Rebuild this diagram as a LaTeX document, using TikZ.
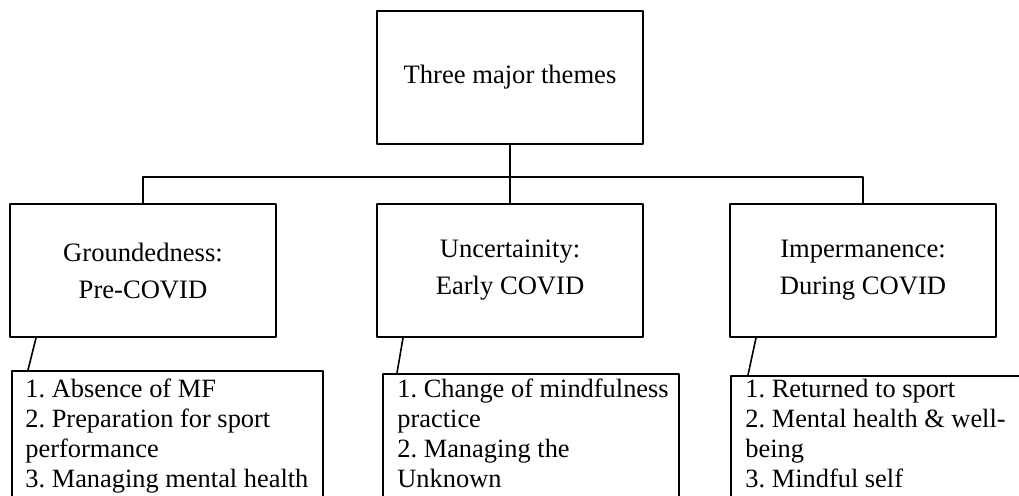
\documentclass[tikz,border=0pt]{standalone}
\usepackage{fontspec}
\setmainfont{Liberation Serif}
\frenchspacing
\begin{document}
\begin{tikzpicture}[x=0.5pt,y=-0.5pt,join=round,
    themebox/.style={draw,line width=1pt,minimum width=133pt,minimum height=66.5pt,inner sep=0pt,align=center,font=\fontsize{13.3}{18.5}\selectfont},
    listbox/.style={draw,line width=1pt,anchor=north west,minimum height=75pt,inner sep=0pt},
    listtext/.style={anchor=north west,inner sep=0pt,align=left,font=\fontsize{13.2}{15}\selectfont},
    link/.style={line width=0.8pt}]
  \useasboundingbox (0,0) rectangle (1019,496);
  \clip (0,0) rectangle (1019,496);
  \node[themebox] (top) at (510,77.5) {Three major themes};
  \node[themebox] (ground) at (143,270.5) {Groundedness:\\Pre-COVID};
  \node[themebox] (uncert) at (510,270.5) {Uncertainity:\\Early COVID};
  \node[themebox] (imperm) at (863,270.5) {Impermanence:\\During COVID};
  \node[listbox,minimum width=155.5pt] (groundlist) at (11,370) {};
  \node[listbox,minimum width=148pt] (uncertlist) at (382,373) {};
  \node[listbox,minimum width=150pt] (impermlist) at (730,375) {};
  \node[listtext] (groundtext) at (25,376)
    {\strut 1. Absence of MF\\2. Preparation for sport\\performance\\3. Managing mental health};
  \node[listtext] (uncerttext) at (397,376)
    {\strut 1. Change of mindfulness\\practice\\2. Managing the\\Unknown};
  \node[listtext] (impermtext) at (745,376)
    {\strut 1. Returned to sport\\2. Mental health \& well-\\being\\3. Mindful self};
  \coordinate (bus) at (510,177);
  \draw[link] (top.south) -- (uncert.north);
  \draw[link] (ground.north) |- (bus) -| (imperm.north);
  \draw[link] ([xshift=13.5pt]ground.south west) -- ([xshift=8.5pt]groundlist.north west);
  \draw[link] ([xshift=13.5pt]uncert.south west) -- ([xshift=7.5pt]uncertlist.north west);
  \draw[link] ([xshift=13.5pt]imperm.south west) -- ([xshift=9pt]impermlist.north west);
\end{tikzpicture}
\end{document}
